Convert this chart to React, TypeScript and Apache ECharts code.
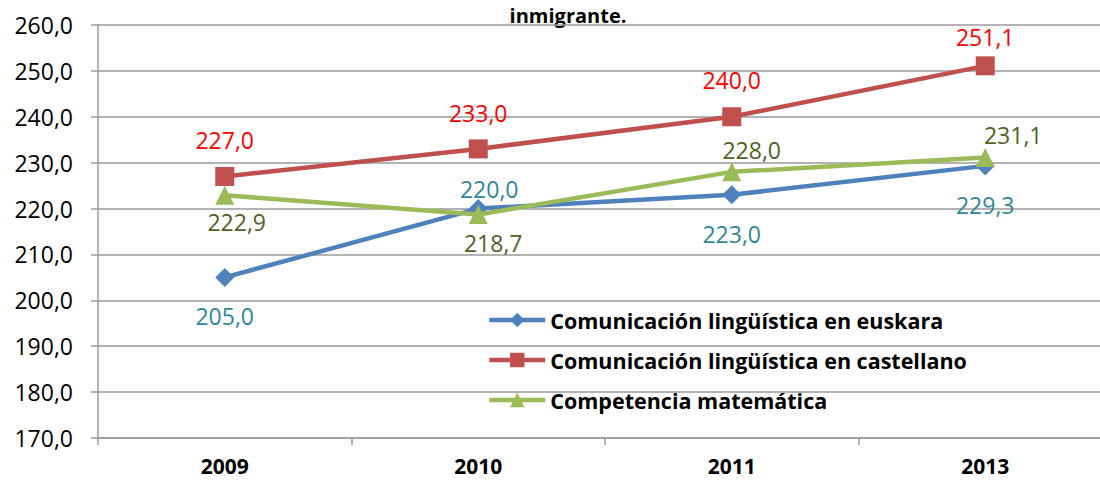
import React, { useEffect, useRef } from "react";
import * as echarts from "echarts";

const years = ["2009", "2010", "2011", "2013"];
const euskara = [205.0, 220.0, 223.0, 229.3];
const castellano = [227.0, 233.0, 240.0, 251.1];
const matematica = [222.9, 218.7, 228.0, 231.1];
const seriesNames = [
  "Comunicación lingüística en euskara",
  "Comunicación lingüística en castellano",
  "Competencia matemática",
];
const titleText = "inmigrante.";

// label placement (style only)
const offEusk = [[0, 39], [11, -20], [0, 39], [0, 39]];
const offCast = [[0, -36], [0, -36], [0, -37], [0, -29]];
const offMat = [[12, 27], [15, 28], [20, -22], [28, -23]];

const FONT = "'Open Sans', sans-serif";
const fmt = (v: number) => v.toFixed(1).replace(".", ",");

function mk(values: number[], offs: number[][]) {
  return values.map((v, i) => ({ value: v, label: { offset: offs[i] } }));
}

export default function App() {
  const ref = useRef<HTMLDivElement>(null);
  useEffect(() => {
    const chart = echarts.init(ref.current!, null, { renderer: "svg" });
    const lbl = (color: string) => ({
      show: true,
      position: "inside" as const,
      color,
      fontFamily: FONT,
      fontSize: 23,
      formatter: (p: any) => fmt(p.value),
    });
    chart.setOption({
      animation: false,
      backgroundColor: "#ffffff",
      graphic: [
        {
          type: "text",
          x: 568,
          y: 15,
          style: {
            text: titleText,
            fontFamily: FONT,
            fontWeight: "bold",
            fontSize: 20,
            fill: "#000",
            textAlign: "center",
            textVerticalAlign: "middle",
          },
        },
      ],
      grid: { left: 98, top: 25, width: 1014, height: 413, containLabel: false },
      legend: {
        orient: "vertical",
        left: 482,
        top: 303,
        itemWidth: 56,
        itemHeight: 18,
        itemGap: 16,
        lineStyle: { width: 4.5 },
        textStyle: {
          fontFamily: FONT,
          fontWeight: "bold",
          fontSize: 21.5,
          lineHeight: 24,
          color: "#000",
        },
        data: seriesNames,
      },
      xAxis: {
        type: "category",
        data: years,
        boundaryGap: true,
        axisLine: { lineStyle: { color: "#9a9a9a", width: 1.5 } },
        axisTick: { show: true, length: 7, interval: 0, lineStyle: { color: "#9a9a9a", width: 1.5 } },
        axisLabel: {
          margin: 17,
          fontFamily: FONT,
          fontWeight: "bold",
          fontSize: 21,
          lineHeight: 21,
          color: "#000",
        },
      },
      yAxis: {
        type: "value",
        min: 170,
        max: 260,
        interval: 10,
        axisLine: { show: true, lineStyle: { color: "#9a9a9a", width: 1.5 } },
        axisTick: { show: true, length: 7, lineStyle: { color: "#9a9a9a", width: 1.5 } },
        splitLine: { lineStyle: { color: "#9a9a9a", width: 1.5 } },
        axisLabel: {
          margin: 25,
          fontFamily: FONT,
          fontSize: 23,
          color: "#000",
          formatter: (v: number) => fmt(v),
        },
      },
      series: [
        {
          name: seriesNames[0],
          type: "line",
          data: mk(euskara, offEusk),
          symbol: "diamond",
          symbolSize: 19,
          color: "#4F81BD",
          lineStyle: { width: 4.5, color: "#4F81BD" },
          itemStyle: { color: "#4F81BD" },
          label: lbl("#31859C"),
          z: 3,
        },
        {
          name: seriesNames[1],
          type: "line",
          data: mk(castellano, offCast),
          symbol: "rect",
          symbolSize: 19,
          color: "#C0504D",
          lineStyle: { width: 4.5, color: "#C0504D" },
          itemStyle: { color: "#C0504D" },
          label: lbl("#FF0000"),
          z: 4,
        },
        {
          name: seriesNames[2],
          type: "line",
          data: mk(matematica, offMat),
          symbol: "triangle",
          symbolSize: 19,
          color: "#9BBB59",
          lineStyle: { width: 4.5, color: "#9BBB59" },
          itemStyle: { color: "#9BBB59" },
          label: lbl("#4F6228"),
          z: 5,
        },
      ],
    });
    return () => chart.dispose();
  }, []);
  return (
    <div style={{ position: "fixed", left: 0, top: 0, width: 1100, height: 482, overflow: "hidden" }}>
      <div ref={ref} style={{ width: 1114, height: 482 }} />
    </div>
  );
}
